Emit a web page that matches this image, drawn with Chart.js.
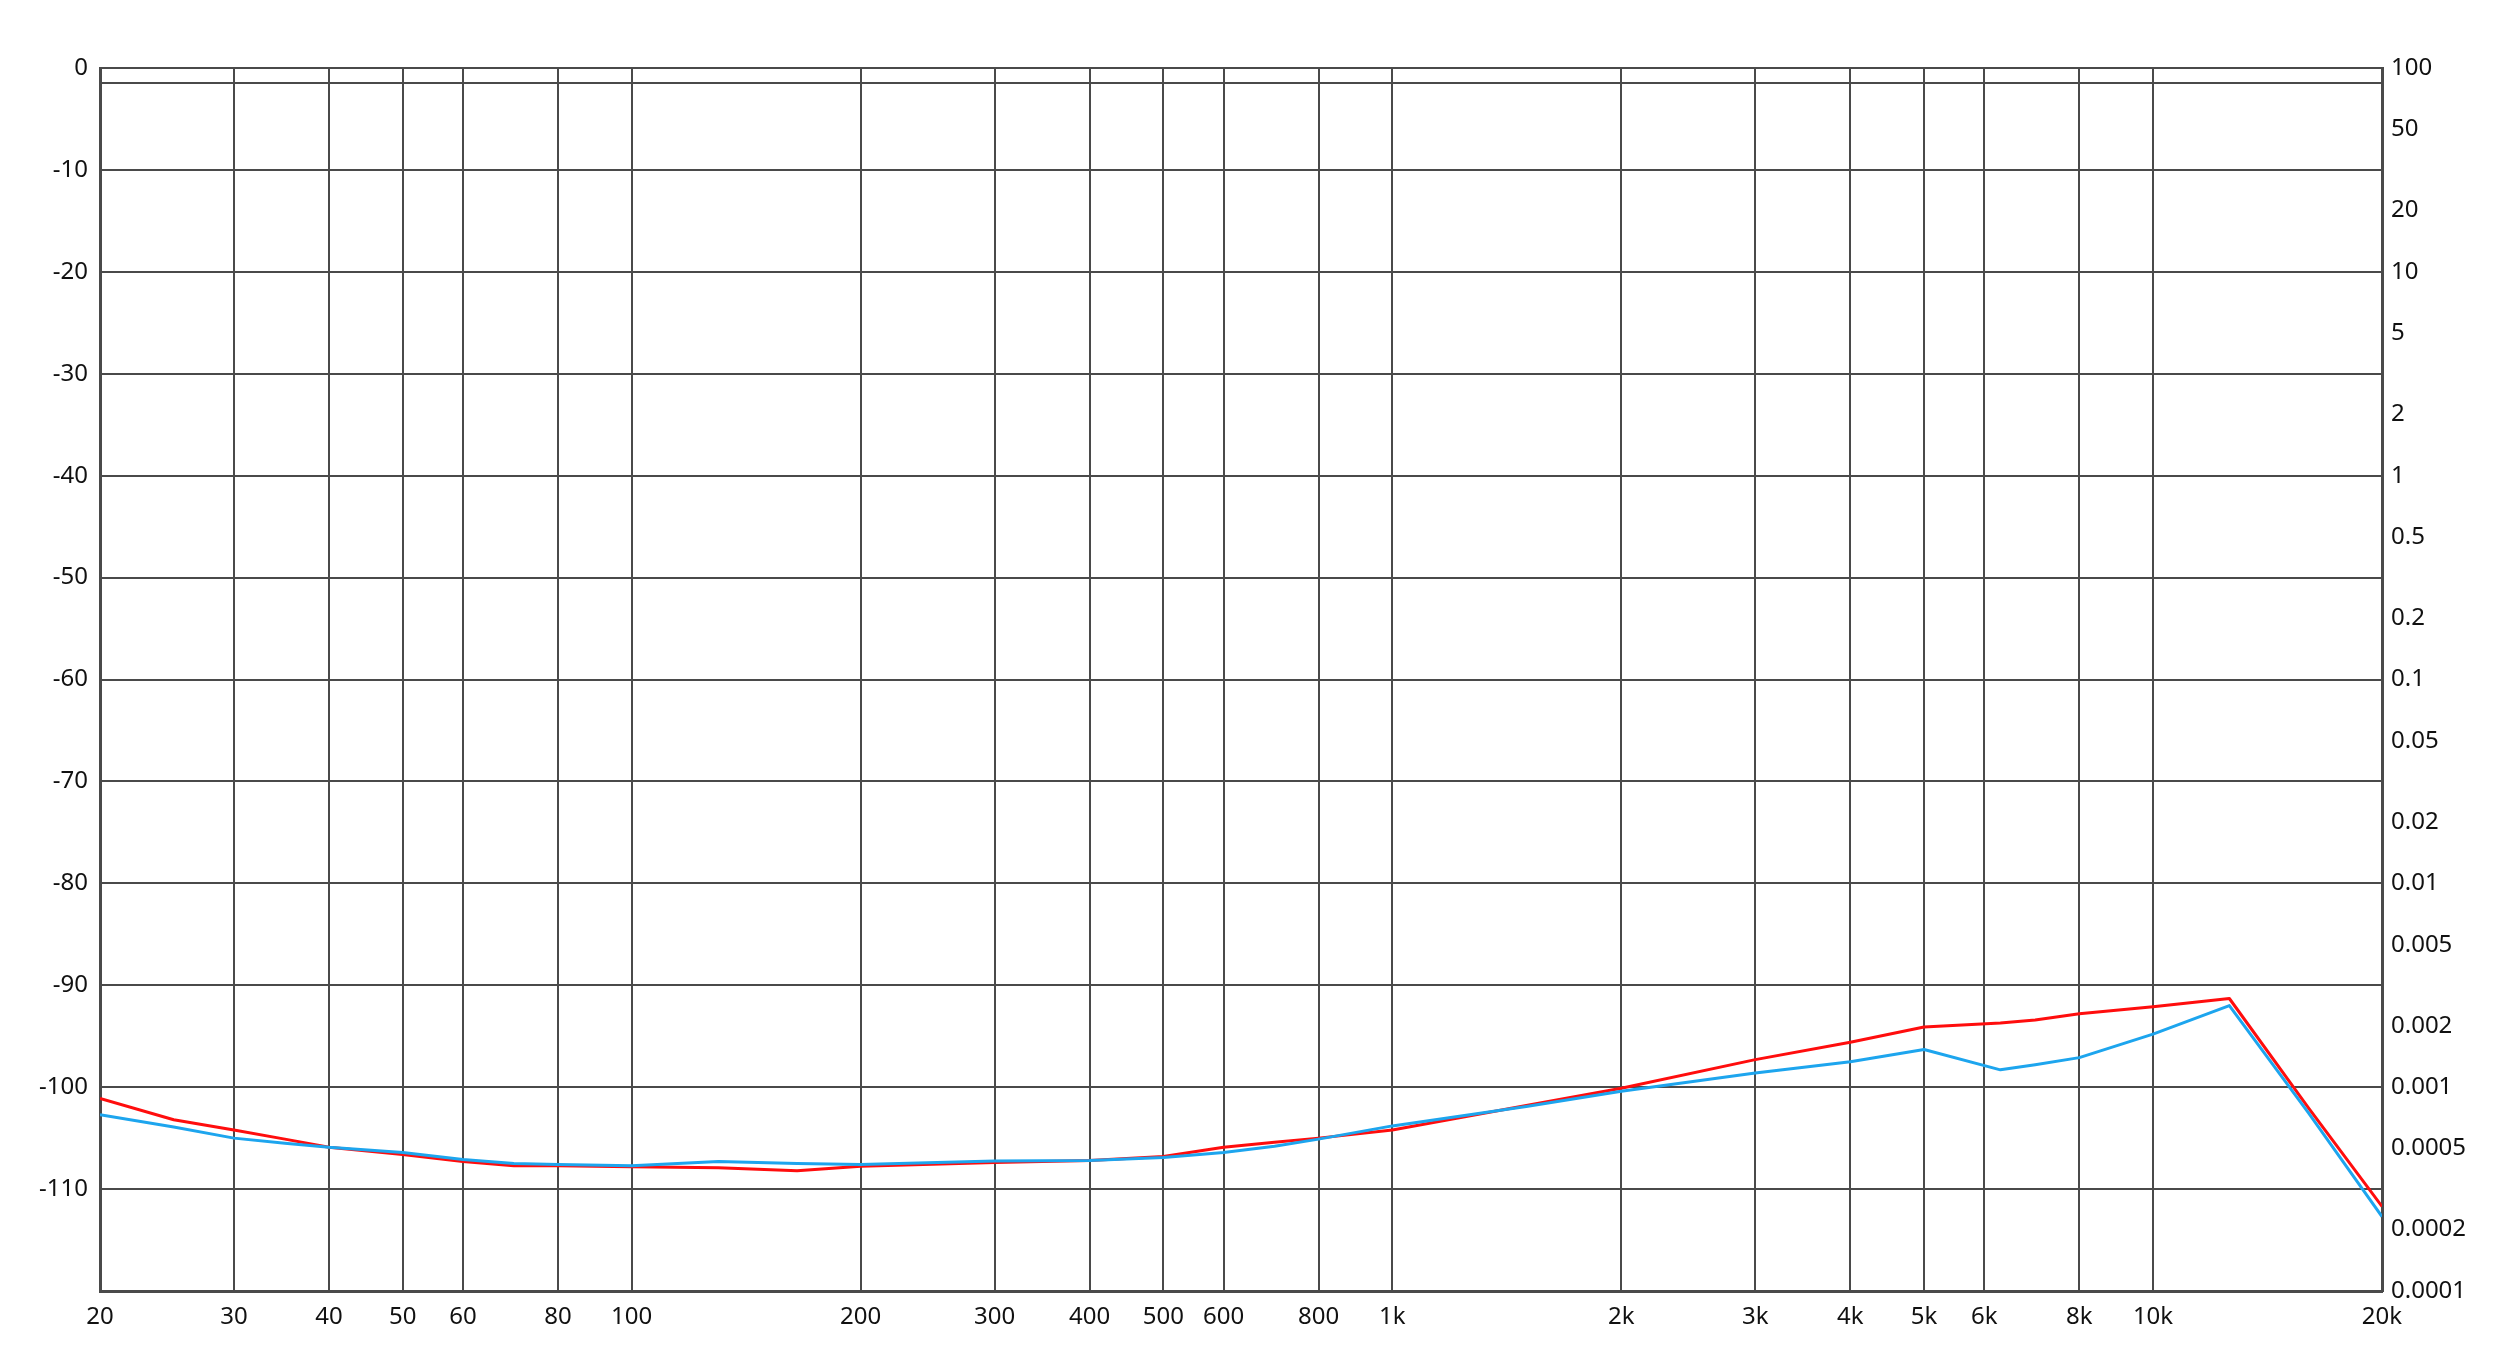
<!DOCTYPE html>
<html>
<head>
<meta charset="utf-8">
<script src="https://cdn.jsdelivr.net/npm/chart.js@4.4.1/dist/chart.umd.min.js"></script>
<style>
  html, body { margin: 0; padding: 0; background: #ffffff; }
  #wrap { width: 2500px; height: 1361px; }
</style>
</head>
<body>
<div id="wrap"><canvas id="c" width="2500" height="1361"></canvas></div>
<script>
// Frequencies (Hz) at which the curves were read
const freqs = [20, 25, 30, 35, 40, 50, 60, 70, 80, 100, 130, 165, 200, 300, 400, 500, 600, 700, 800, 1000, 1500, 2000, 3000, 4000, 5000, 6300, 7000, 8000, 10000, 12600, 16000, 20000];
// Red series (dB)
const redValues = [-101.1, -103.2, -104.2, -105.1, -105.9, -106.6, -107.3, -107.7, -107.7, -107.8, -107.9, -108.2, -107.75, -107.4, -107.2, -106.8, -105.9, -105.4, -105.0, -104.2, -101.8, -100.1, -97.3, -95.6, -94.1, -93.7, -93.4, -92.8, -92.1, -91.3, -102.0, -111.7];
// Blue series (dB)
const blueValues = [-102.7, -103.9, -105.0, -105.5, -105.9, -106.4, -107.1, -107.5, -107.6, -107.7, -107.3, -107.5, -107.6, -107.25, -107.2, -106.9, -106.4, -105.8, -105.1, -103.8, -101.9, -100.4, -98.6, -97.5, -96.3, -98.3, -97.8, -97.1, -94.8, -92.0, -102.5, -112.7];

// Tick labels
const xTickValues = [20, 30, 40, 50, 60, 80, 100, 200, 300, 400, 500, 600, 800, 1000, 2000, 3000, 4000, 5000, 6000, 8000, 10000, 20000];
const xTickLabels = ['20', '30', '40', '50', '60', '80', '100', '200', '300', '400', '500', '600', '800', '1k', '2k', '3k', '4k', '5k', '6k', '8k', '10k', '20k'];
const leftTickValues = [0, -10, -20, -30, -40, -50, -60, -70, -80, -90, -100, -110];
const leftExtraGrid = [-1.5, -120];
const rightTickValues = [100, 50, 20, 10, 5, 2, 1, 0.5, 0.2, 0.1, 0.05, 0.02, 0.01, 0.005, 0.002, 0.001, 0.0005, 0.0002, 0.0001];
const rightTickLabels = ['100', '50', '20', '10', '5', '2', '1', '0.5', '0.2', '0.1', '0.05', '0.02', '0.01', '0.005', '0.002', '0.001', '0.0005', '0.0002', '0.0001'];

const gridColor = '#4a4a4a';
const fontSpec = { family: '"Noto Sans", "Open Sans", sans-serif', size: 24 };

const toPts = (vals) => freqs.map((f, i) => ({ x: f, y: vals[i] }));

new Chart(document.getElementById('c'), {
  type: 'line',
  data: {
    datasets: [
      { label: 'blue', data: toPts(blueValues), borderColor: '#1da5ee', borderWidth: 3, pointRadius: 0, tension: 0, borderJoinStyle: 'round', xAxisID: 'x', yAxisID: 'y' },
      { label: 'red', data: toPts(redValues), borderColor: '#ff0d0d', borderWidth: 3, pointRadius: 0, tension: 0, borderJoinStyle: 'round', xAxisID: 'x', yAxisID: 'y' }
    ]
  },
  options: {
    responsive: false,
    animation: false,
    events: [],
    layout: { padding: { top: 68, left: 0, right: 0, bottom: 0 } },
    plugins: { legend: { display: false }, tooltip: { enabled: false } },
    scales: {
      x: {
        type: 'logarithmic',
        min: 20, max: 20000,
        afterBuildTicks: (s) => { s.ticks = xTickValues.map(v => ({ value: v })); },
        afterFit: (s) => { s.height = 70; },
        ticks: {
          autoSkip: false, maxRotation: 0, padding: 12, color: '#111',
          font: fontSpec,
          callback: (v) => { const i = xTickValues.indexOf(v); return i >= 0 ? xTickLabels[i] : ''; }
        },
        grid: { color: gridColor, lineWidth: 2, drawTicks: false },
        border: { color: gridColor, width: 3 }
      },
      y: {
        type: 'linear', position: 'left',
        min: -120, max: 0,
        afterBuildTicks: (s) => {
          const all = leftTickValues.concat(leftExtraGrid).sort((a, b) => b - a);
          s.ticks = all.map(v => ({ value: v }));
        },
        afterFit: (s) => { s.width = 100; },
        ticks: {
          autoSkip: false, padding: 12, color: '#111',
          font: fontSpec,
          callback: (v) => leftTickValues.indexOf(v) >= 0 ? String(v) : ''
        },
        grid: { color: gridColor, lineWidth: 2, drawTicks: false },
        border: { color: gridColor, width: 3 }
      },
      y2: {
        type: 'logarithmic', position: 'right',
        min: 0.0001, max: 100,
        afterBuildTicks: (s) => { s.ticks = rightTickValues.map(v => ({ value: v })); },
        afterFit: (s) => { s.width = 118; },
        ticks: {
          autoSkip: false, padding: 9, color: '#111',
          font: fontSpec,
          callback: (v) => { const i = rightTickValues.indexOf(v); return i >= 0 ? rightTickLabels[i] : ''; }
        },
        grid: { display: false, drawTicks: false },
        border: { color: gridColor, width: 3 }
      }
    }
  }
});
</script>
</body>
</html>
